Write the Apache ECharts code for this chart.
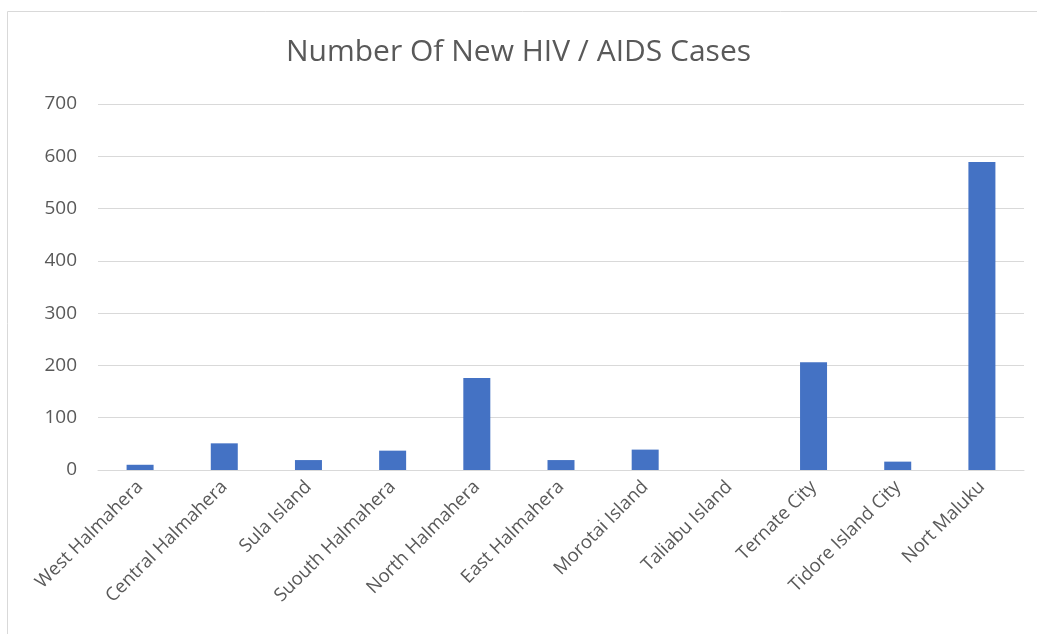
<!DOCTYPE html>
<html>
<head>
<meta charset="utf-8">
<script src="https://cdn.jsdelivr.net/npm/echarts@6/dist/echarts.min.js"></script>
<style>
    html, body { margin: 0; padding: 0; background: #fff; }
    #chart { width: 1037px; height: 634px; }
</style>
</head>
<body>
<div id="chart"></div>
<script>
var regions = ['West Halmahera', 'Central Halmahera', 'Sula Island', 'Suouth Halmahera', 'North Halmahera',
    'East Halmahera', 'Morotai Island', 'Taliabu Island', 'Ternate City', 'Tidore Island City', 'Nort Maluku'];
var newCases = [10, 51, 19, 37, 176, 19, 39, 0, 206, 16, 589];
var yTicks = [0, 100, 200, 300, 400, 500, 600, 700];

var myChart = echarts.init(document.getElementById('chart'));
var option = {
    textStyle: { fontFamily: 'Open Sans' },
    title: {
        text: 'Number Of New HIV / AIDS Cases',
        left: 'center',
        top: 32,
        textStyle: { fontSize: 30, fontWeight: 'normal', color: '#595959', fontFamily: 'Open Sans' }
    },
    graphic: [{
        type: 'rect',
        shape: { x: 7.5, y: 11.5, width: 1040, height: 640 },
        style: { fill: 'none', stroke: '#d9d9d9', lineWidth: 1 }
    }],
    grid: { left: 98, right: 13, top: 104, bottom: 164 },
    xAxis: {
        type: 'category',
        data: regions,
        axisLine: { lineStyle: { color: '#d9d9d9', width: 1 } },
        axisTick: { show: false },
        axisLabel: { rotate: 45, fontSize: 18.5, color: '#595959', interval: 0, margin: 14 }
    },
    yAxis: {
        type: 'value',
        min: yTicks[0],
        max: yTicks[yTicks.length - 1],
        interval: 100,
        axisLine: { show: false },
        axisTick: { show: false },
        axisLabel: { fontSize: 19, color: '#595959', margin: 21 },
        splitLine: { lineStyle: { color: '#d9d9d9', width: 1 } }
    },
    series: [{
        type: 'bar',
        data: newCases,
        barWidth: 27,
        itemStyle: { color: '#4472C4' }
    }]
};
myChart.setOption(option);
</script>
</body>
</html>
